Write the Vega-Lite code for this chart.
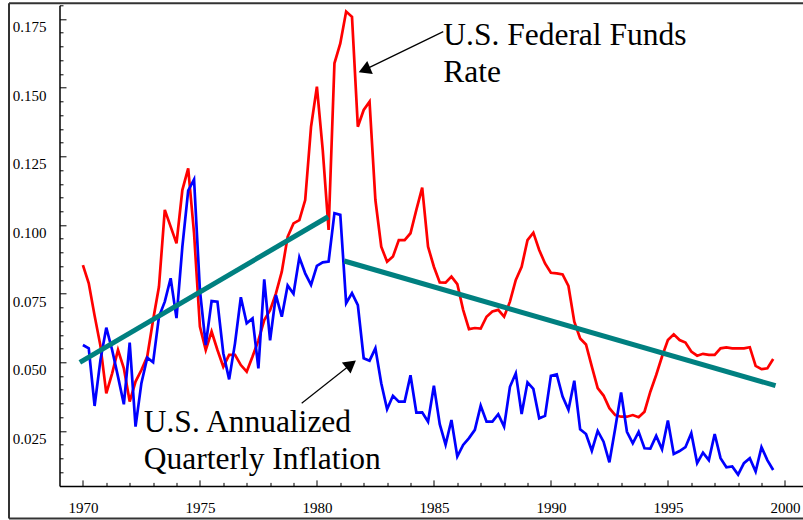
{
  "$schema": "https://vega.github.io/schema/vega-lite/v6.json",
  "width": 743.5,
  "height": 480.6,
  "autosize": {"type": "none"},
  "padding": {"left": 59.5, "top": 5.3, "right": 0, "bottom": 34.1},
  "background": "white",
  "datasets": {
    "quarterly": [
      {"t": 1970.00, "funds": 0.0854, "inflation": 0.0563},
      {"t": 1970.25, "funds": 0.0788, "inflation": 0.0551},
      {"t": 1970.50, "funds": 0.0670, "inflation": 0.0341},
      {"t": 1970.75, "funds": 0.0560, "inflation": 0.0509},
      {"t": 1971.00, "funds": 0.0387, "inflation": 0.0626},
      {"t": 1971.25, "funds": 0.0460, "inflation": 0.0545},
      {"t": 1971.50, "funds": 0.0545, "inflation": 0.0448},
      {"t": 1971.75, "funds": 0.0478, "inflation": 0.0347},
      {"t": 1972.00, "funds": 0.0357, "inflation": 0.0572},
      {"t": 1972.25, "funds": 0.0430, "inflation": 0.0266},
      {"t": 1972.50, "funds": 0.0472, "inflation": 0.0424},
      {"t": 1972.75, "funds": 0.0521, "inflation": 0.0517},
      {"t": 1973.00, "funds": 0.0654, "inflation": 0.0500},
      {"t": 1973.25, "funds": 0.0775, "inflation": 0.0666},
      {"t": 1973.50, "funds": 0.1055, "inflation": 0.0721},
      {"t": 1973.75, "funds": 0.0994, "inflation": 0.0806},
      {"t": 1974.00, "funds": 0.0933, "inflation": 0.0661},
      {"t": 1974.25, "funds": 0.1127, "inflation": 0.0920},
      {"t": 1974.50, "funds": 0.1206, "inflation": 0.1125},
      {"t": 1974.75, "funds": 0.0970, "inflation": 0.1166},
      {"t": 1975.00, "funds": 0.0630, "inflation": 0.0763},
      {"t": 1975.25, "funds": 0.0545, "inflation": 0.0563},
      {"t": 1975.50, "funds": 0.0612, "inflation": 0.0723},
      {"t": 1975.75, "funds": 0.0545, "inflation": 0.0721},
      {"t": 1976.00, "funds": 0.0484, "inflation": 0.0533},
      {"t": 1976.25, "funds": 0.0527, "inflation": 0.0438},
      {"t": 1976.50, "funds": 0.0527, "inflation": 0.0569},
      {"t": 1976.75, "funds": 0.0490, "inflation": 0.0737},
      {"t": 1977.00, "funds": 0.0466, "inflation": 0.0642},
      {"t": 1977.25, "funds": 0.0521, "inflation": 0.0660},
      {"t": 1977.50, "funds": 0.0580, "inflation": 0.0478},
      {"t": 1977.75, "funds": 0.0654, "inflation": 0.0802},
      {"t": 1978.00, "funds": 0.0690, "inflation": 0.0580},
      {"t": 1978.25, "funds": 0.0751, "inflation": 0.0745},
      {"t": 1978.50, "funds": 0.0830, "inflation": 0.0666},
      {"t": 1978.75, "funds": 0.0957, "inflation": 0.0780},
      {"t": 1979.00, "funds": 0.1006, "inflation": 0.0750},
      {"t": 1979.25, "funds": 0.1018, "inflation": 0.0882},
      {"t": 1979.50, "funds": 0.1091, "inflation": 0.0824},
      {"t": 1979.75, "funds": 0.1358, "inflation": 0.0782},
      {"t": 1980.00, "funds": 0.1504, "inflation": 0.0851},
      {"t": 1980.25, "funds": 0.1273, "inflation": 0.0864},
      {"t": 1980.50, "funds": 0.0982, "inflation": 0.0867},
      {"t": 1980.75, "funds": 0.1589, "inflation": 0.1043},
      {"t": 1981.00, "funds": 0.1661, "inflation": 0.1037},
      {"t": 1981.25, "funds": 0.1777, "inflation": 0.0715},
      {"t": 1981.50, "funds": 0.1758, "inflation": 0.0752},
      {"t": 1981.75, "funds": 0.1358, "inflation": 0.0708},
      {"t": 1982.00, "funds": 0.1419, "inflation": 0.0515},
      {"t": 1982.25, "funds": 0.1449, "inflation": 0.0506},
      {"t": 1982.50, "funds": 0.1091, "inflation": 0.0551},
      {"t": 1982.75, "funds": 0.0921, "inflation": 0.0424},
      {"t": 1983.00, "funds": 0.0866, "inflation": 0.0329},
      {"t": 1983.25, "funds": 0.0885, "inflation": 0.0378},
      {"t": 1983.50, "funds": 0.0945, "inflation": 0.0357},
      {"t": 1983.75, "funds": 0.0945, "inflation": 0.0357},
      {"t": 1984.00, "funds": 0.0970, "inflation": 0.0453},
      {"t": 1984.25, "funds": 0.1055, "inflation": 0.0317},
      {"t": 1984.50, "funds": 0.1136, "inflation": 0.0318},
      {"t": 1984.75, "funds": 0.0921, "inflation": 0.0284},
      {"t": 1985.00, "funds": 0.0848, "inflation": 0.0415},
      {"t": 1985.25, "funds": 0.0791, "inflation": 0.0275},
      {"t": 1985.50, "funds": 0.0790, "inflation": 0.0200},
      {"t": 1985.75, "funds": 0.0812, "inflation": 0.0290},
      {"t": 1986.00, "funds": 0.0785, "inflation": 0.0157},
      {"t": 1986.25, "funds": 0.0691, "inflation": 0.0199},
      {"t": 1986.50, "funds": 0.0621, "inflation": 0.0224},
      {"t": 1986.75, "funds": 0.0625, "inflation": 0.0254},
      {"t": 1987.00, "funds": 0.0623, "inflation": 0.0342},
      {"t": 1987.25, "funds": 0.0666, "inflation": 0.0284},
      {"t": 1987.50, "funds": 0.0685, "inflation": 0.0284},
      {"t": 1987.75, "funds": 0.0691, "inflation": 0.0311},
      {"t": 1988.00, "funds": 0.0666, "inflation": 0.0266},
      {"t": 1988.25, "funds": 0.0721, "inflation": 0.0411},
      {"t": 1988.50, "funds": 0.0800, "inflation": 0.0460},
      {"t": 1988.75, "funds": 0.0848, "inflation": 0.0312},
      {"t": 1989.00, "funds": 0.0945, "inflation": 0.0427},
      {"t": 1989.25, "funds": 0.0972, "inflation": 0.0403},
      {"t": 1989.50, "funds": 0.0909, "inflation": 0.0296},
      {"t": 1989.75, "funds": 0.0860, "inflation": 0.0305},
      {"t": 1990.00, "funds": 0.0826, "inflation": 0.0451},
      {"t": 1990.25, "funds": 0.0824, "inflation": 0.0456},
      {"t": 1990.50, "funds": 0.0820, "inflation": 0.0375},
      {"t": 1990.75, "funds": 0.0778, "inflation": 0.0327},
      {"t": 1991.00, "funds": 0.0648, "inflation": 0.0433},
      {"t": 1991.25, "funds": 0.0587, "inflation": 0.0256},
      {"t": 1991.50, "funds": 0.0565, "inflation": 0.0239},
      {"t": 1991.75, "funds": 0.0484, "inflation": 0.0178},
      {"t": 1992.00, "funds": 0.0406, "inflation": 0.0250},
      {"t": 1992.25, "funds": 0.0379, "inflation": 0.0211},
      {"t": 1992.50, "funds": 0.0333, "inflation": 0.0136},
      {"t": 1992.75, "funds": 0.0308, "inflation": 0.0260},
      {"t": 1993.00, "funds": 0.0302, "inflation": 0.0390},
      {"t": 1993.25, "funds": 0.0302, "inflation": 0.0247},
      {"t": 1993.50, "funds": 0.0308, "inflation": 0.0205},
      {"t": 1993.75, "funds": 0.0300, "inflation": 0.0247},
      {"t": 1994.00, "funds": 0.0320, "inflation": 0.0187},
      {"t": 1994.25, "funds": 0.0393, "inflation": 0.0186},
      {"t": 1994.50, "funds": 0.0454, "inflation": 0.0232},
      {"t": 1994.75, "funds": 0.0521, "inflation": 0.0183},
      {"t": 1995.00, "funds": 0.0581, "inflation": 0.0288},
      {"t": 1995.25, "funds": 0.0602, "inflation": 0.0166},
      {"t": 1995.50, "funds": 0.0581, "inflation": 0.0177},
      {"t": 1995.75, "funds": 0.0572, "inflation": 0.0191},
      {"t": 1996.00, "funds": 0.0539, "inflation": 0.0242},
      {"t": 1996.25, "funds": 0.0524, "inflation": 0.0133},
      {"t": 1996.50, "funds": 0.0531, "inflation": 0.0171},
      {"t": 1996.75, "funds": 0.0527, "inflation": 0.0144},
      {"t": 1997.00, "funds": 0.0527, "inflation": 0.0239},
      {"t": 1997.25, "funds": 0.0551, "inflation": 0.0151},
      {"t": 1997.50, "funds": 0.0554, "inflation": 0.0118},
      {"t": 1997.75, "funds": 0.0551, "inflation": 0.0121},
      {"t": 1998.00, "funds": 0.0551, "inflation": 0.0091},
      {"t": 1998.25, "funds": 0.0551, "inflation": 0.0133},
      {"t": 1998.50, "funds": 0.0555, "inflation": 0.0151},
      {"t": 1998.75, "funds": 0.0487, "inflation": 0.0102},
      {"t": 1999.00, "funds": 0.0475, "inflation": 0.0191},
      {"t": 1999.25, "funds": 0.0478, "inflation": 0.0144},
      {"t": 1999.50, "funds": 0.0512, "inflation": 0.0108}
    ],
    "trends": [
      {"trend": "rising", "t": 1969.87, "v": 0.0500},
      {"trend": "rising", "t": 1980.48, "v": 0.1030},
      {"trend": "falling", "t": 1981.17, "v": 0.0869},
      {"trend": "falling", "t": 1999.60, "v": 0.0415}
    ],
    "notes": [
      {"target": "funds", "label": "U.S. Federal Funds\nRate", "t": 1985.40, "v": 0.1655, "t0": 1985.40, "v0": 0.1704, "t1": 1982.03, "v1": 0.1565},
      {"target": "inflation", "label": "U.S. Annualized\nQuarterly Inflation", "t": 1972.60, "v": 0.02475, "t0": 1979.35, "v0": 0.0351, "t1": 1981.46, "v1": 0.0493}
    ]
  },
  "encoding": {
    "x": {
      "type": "quantitative",
      "scale": {"domain": [1969, 2000.774], "nice": false, "zero": false},
      "axis": {
        "title": null,
        "grid": false,
        "values": [1970, 1971, 1972, 1973, 1974, 1975, 1976, 1977, 1978, 1979, 1980, 1981, 1982, 1983, 1984, 1985, 1986, 1987, 1988, 1989, 1990, 1991, 1992, 1993, 1994, 1995, 1996, 1997, 1998, 1999, 2000],
        "labelExpr": "datum.value % 5 === 0 ? '' + datum.value : ''",
        "tickSize": {"condition": {"test": "datum.value % 5 === 0", "value": -6}, "value": -3.5},
        "labelPadding": 20.5,
        "labelFlush": false,
        "labelOverlap": false,
        "labelFont": "Liberation Serif",
        "labelFontSize": 15,
        "labelColor": "black",
        "domainColor": "black",
        "domainWidth": 1.5,
        "tickColor": "black",
        "tickWidth": 1
      }
    },
    "y": {
      "type": "quantitative",
      "scale": {"domain": [0.005, 0.18], "nice": false, "zero": false},
      "axis": {
        "title": null,
        "grid": false,
        "values": [0.01, 0.015, 0.02, 0.025, 0.03, 0.035, 0.04, 0.045, 0.05, 0.055, 0.06, 0.065, 0.07, 0.075, 0.08, 0.085, 0.09, 0.095, 0.1, 0.105, 0.11, 0.115, 0.12, 0.125, 0.13, 0.135, 0.14, 0.145, 0.15, 0.155, 0.16, 0.165, 0.17, 0.175, 0.18],
        "labelExpr": "round(datum.value * 1000) % 25 === 0 ? format(datum.value, '.3f') : ''",
        "tickSize": {"condition": {"test": "round(datum.value * 1000) % 25 === 0", "value": -6.5}, "value": -3.5},
        "labelPadding": 20,
        "labelOffset": 7.5,
        "labelFlush": false,
        "labelOverlap": false,
        "labelFont": "Liberation Serif",
        "labelFontSize": 15,
        "labelColor": "black",
        "domainColor": "black",
        "domainWidth": 1.5,
        "tickColor": "black",
        "tickWidth": 1
      }
    }
  },
  "layer": [
    {
      "data": {"values": [{}]},
      "mark": {"type": "rule", "color": "#333333", "strokeWidth": 2},
      "encoding": {
        "x": {"datum": 1966.842, "type": "quantitative"},
        "y": {"datum": 0.18073, "type": "quantitative"},
        "y2": {"datum": -0.00687}
      }
    },
    {
      "data": {"values": [{}]},
      "mark": {"type": "rule", "color": "#333333", "strokeWidth": 2},
      "encoding": {
        "x": {"datum": 1966.842, "type": "quantitative"},
        "x2": {"datum": 2002},
        "y": {"datum": 0.18073, "type": "quantitative"}
      }
    },
    {
      "data": {"values": [{}]},
      "mark": {"type": "rule", "color": "#333333", "strokeWidth": 2},
      "encoding": {
        "x": {"datum": 1966.842, "type": "quantitative"},
        "x2": {"datum": 2002},
        "y": {"datum": -0.00687, "type": "quantitative"}
      }
    },
    {
      "data": {"name": "quarterly"},
      "mark": {"type": "line", "color": "#ff0000", "strokeWidth": 2.7},
      "encoding": {
        "x": {"field": "t", "type": "quantitative"},
        "y": {"field": "funds", "type": "quantitative"}
      }
    },
    {
      "data": {"name": "quarterly"},
      "mark": {"type": "line", "color": "#0000ff", "strokeWidth": 2.7},
      "encoding": {
        "x": {"field": "t", "type": "quantitative"},
        "y": {"field": "inflation", "type": "quantitative"}
      }
    },
    {
      "data": {"name": "trends"},
      "mark": {"type": "line", "color": "#008080", "strokeWidth": 5, "strokeCap": "butt"},
      "encoding": {
        "x": {"field": "t", "type": "quantitative"},
        "y": {"field": "v", "type": "quantitative"},
        "detail": {"field": "trend", "type": "nominal"}
      }
    },
    {
      "data": {"name": "notes"},
      "mark": {"type": "rule", "color": "black", "strokeWidth": 1.2},
      "encoding": {
        "x": {"field": "t0", "type": "quantitative"},
        "y": {"field": "v0", "type": "quantitative"},
        "x2": {"field": "t1"},
        "y2": {"field": "v1"}
      }
    },
    {
      "data": {"name": "notes"},
      "mark": {"type": "point", "shape": "triangle-up", "filled": true, "color": "black", "opacity": 1, "size": 200},
      "encoding": {
        "x": {"field": "t1", "type": "quantitative"},
        "y": {"field": "v1", "type": "quantitative"},
        "angle": {"condition": {"test": "datum.target === 'funds'", "value": 247}, "value": 52}
      }
    },
    {
      "data": {"name": "notes"},
      "mark": {"type": "text", "align": "left", "baseline": "alphabetic", "font": "Liberation Serif", "fontSize": 31.5, "lineHeight": 37, "lineBreak": "\n", "color": "black"},
      "encoding": {
        "x": {"field": "t", "type": "quantitative"},
        "y": {"field": "v", "type": "quantitative"},
        "text": {"field": "label", "type": "nominal"}
      }
    }
  ],
  "config": {
    "view": {"stroke": null},
    "font": "Liberation Serif"
  }
}
